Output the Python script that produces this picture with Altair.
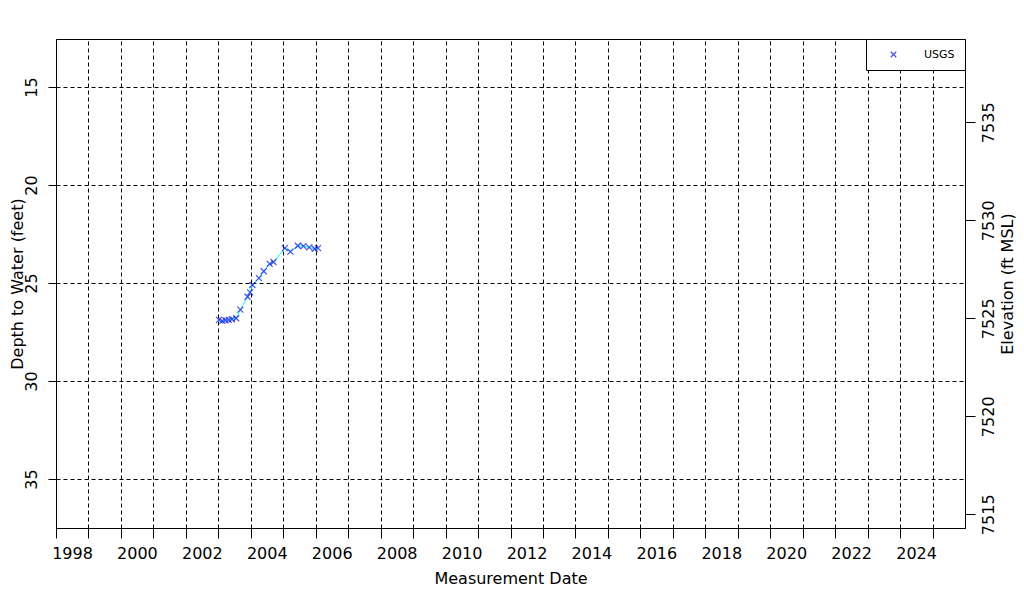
import altair as alt
import pandas as pd

# Measurement dates (decimal years) and depth to water (feet)
years = [2003.02, 2003.12, 2003.22, 2003.32, 2003.42, 2003.55, 2003.68,
         2003.90, 2003.98, 2004.05, 2004.25, 2004.40, 2004.58, 2004.70,
         2005.05, 2005.22, 2005.45, 2005.62, 2005.80, 2005.97, 2006.07]
depths = [26.88, 26.93, 26.90, 26.88, 26.85, 26.80, 26.36,
          25.70, 25.48, 25.10, 24.75, 24.40, 24.02, 23.93,
          23.22, 23.40, 23.10, 23.12, 23.18, 23.25, 23.22]
agency = ["USGS"] * len(years)
land_surface = 7551.8  # ft MSL

x_ticks = list(range(1998, 2026))
depth_ticks = [15, 20, 25, 30, 35]
elev_ticks = [7515, 7520, 7525, 7530, 7535]
depth_domain = [12.55, 37.5]

df = pd.DataFrame({"year": years, "depth": depths, "agency": agency})
df["elev"] = land_surface - df["depth"]

FONT = "DejaVu Sans"
XPATH = "M-1,-1L1,1M1,-1L-1,1"

x_enc = alt.X(
    "year:Q",
    scale=alt.Scale(domain=[1998, 2026], nice=False, zero=False),
    axis=alt.Axis(
        values=x_ticks,
        labelExpr="datum.value % 2 == 0 ? '' + datum.value : ''",
        labelOffset=16,
        labelOverlap=False,
        labelFlush=False,
        grid=True,
        gridDash=[4, 3],
        gridColor="black",
        gridOpacity=1,
        tickSize=10,
        tickColor="black",
        domainColor="black",
        labelPadding=7,
        titlePadding=9,
        title="Measurement Date",
    ),
)

y_enc = alt.Y(
    "depth:Q",
    scale=alt.Scale(domain=depth_domain, reverse=True, nice=False, zero=False),
    axis=alt.Axis(
        values=depth_ticks,
        grid=True,
        gridDash=[4, 3],
        gridColor="black",
        gridOpacity=1,
        tickSize=8,
        tickColor="black",
        domainColor="black",
        labelAngle=270,
        labelAlign="center",
        labelBaseline="bottom",
        labelPadding=9,
        titleAngle=270,
        titlePadding=-2,
        title="Depth to Water (feet)",
    ),
)

line = alt.Chart(df).mark_line(color="#00FFFF", strokeWidth=1).encode(x=x_enc, y=y_enc)

points = alt.Chart(df).mark_point(shape=XPATH, filled=False, size=36, strokeWidth=1.2).encode(
    x=x_enc,
    y=y_enc,
    color=alt.Color(
        "agency:N",
        scale=alt.Scale(domain=["USGS"], range=["#0000FF"]),
        legend=alt.Legend(
            title=None,
            orient="top-right",
            offset=0,
            strokeColor="black",
            fillColor="white",
            padding=10,
            cornerRadius=0,
            symbolType=XPATH,
            symbolSize=30,
            symbolStrokeWidth=1.2,
            symbolStrokeColor="#0000FF",
            symbolOffset=12,
            labelFont=FONT,
            labelFontSize=11,
            labelOffset=25,
            labelColor="black",
        ),
    ),
)

right = alt.Chart(df).mark_point(opacity=0).encode(
    x=x_enc,
    y=alt.Y(
        "elev:Q",
        scale=alt.Scale(domain=[land_surface - depth_domain[1], land_surface - depth_domain[0]],
                        nice=False, zero=False),
        axis=alt.Axis(
            orient="right",
            values=elev_ticks,
            format="d",
            grid=False,
            tickSize=10,
            tickColor="black",
            domainColor="black",
            labelAngle=270,
            labelAlign="center",
            labelBaseline="top",
            labelPadding=5,
            titleAngle=270,
            titlePadding=19,
            title="Elevation (ft MSL)",
        ),
    ),
)

chart = (
    alt.layer(alt.layer(line, points), right)
    .resolve_scale(y="independent")
    .properties(
        width=909,
        height=489,
        autosize="none",
        background="white",
        padding={"left": 48, "top": 31, "right": 51, "bottom": 64},
    )
    .configure_view(stroke="black", strokeWidth=1)
    .configure_axis(
        labelFont=FONT,
        titleFont=FONT,
        labelFontSize=16,
        titleFontSize=16,
        titleFontWeight="normal",
        labelColor="black",
        titleColor="black",
    )
)

chart.save("out.html", embed_options={"renderer": "svg", "actions": False})
